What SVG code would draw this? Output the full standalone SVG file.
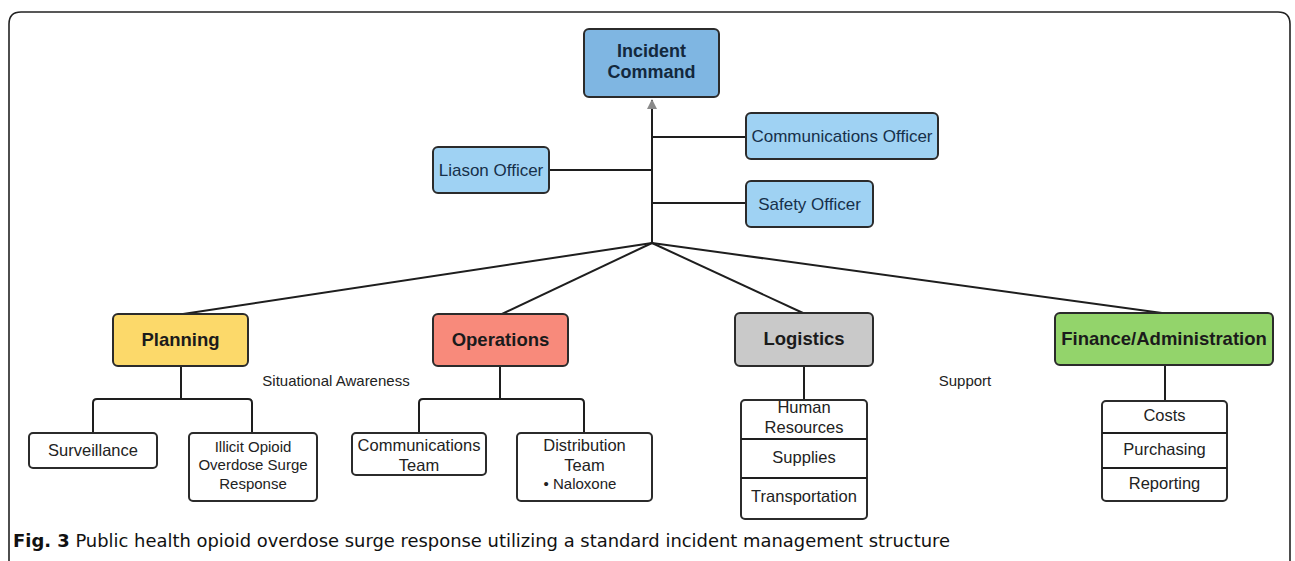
<svg xmlns="http://www.w3.org/2000/svg" width="1295" height="561" viewBox="0 0 1295 561">
<defs>
<style>
.frame{fill:none;stroke:#222;stroke-width:1.6}
.box{stroke:#2b2b2b;stroke-width:2}
.ic{fill:#7fb6e2}
.off{fill:#9fd2f3}
.plan{fill:#fcd96a}
.ops{fill:#f88a7b}
.log{fill:#c9c9c9}
.fin{fill:#93d46b}
.wb{fill:#fff}
.conn{fill:none;stroke:#1e1e1e;stroke-width:2}
.t{font-family:"Liberation Sans",Arial,sans-serif;text-anchor:middle;fill:#222}
.hb{font-size:18.5px;font-weight:bold;fill:#1b1b1b}
.hib{font-size:18px;font-weight:bold;fill:#13283d}
.ot{font-size:17px;fill:#16304a}
.ct{font-size:16.5px}
.cs{font-size:15px}
.lt{font-size:15px}
.cap{font-family:"Liberation Sans Narrow","DejaVu Sans Condensed","Liberation Sans",sans-serif;font-size:17px;fill:#111}
</style>
<marker id="arr" viewBox="0 0 10 10" refX="9" refY="5" markerWidth="5" markerHeight="5" orient="auto">
<path d="M0,0 L10,5 L0,10 z" fill="#8a8a8a"/>
</marker>
</defs>
<rect width="1295" height="561" fill="#fff"/>
<path class="frame" d="M9,575 L9,24 Q9,12 21,12 L1278,12 Q1290,12 1290,24 L1290,575"/>

<g id="connectors">
<path class="conn" d="M652,243 L652,100" marker-end="url(#arr)"/>
<path class="conn" d="M652,137 L746,137"/>
<path class="conn" d="M652,203 L746,203"/>
<path class="conn" d="M549,170 L652,170"/>
<path class="conn" d="M652,243 L183,314"/>
<path class="conn" d="M652,243 L502,314"/>
<path class="conn" d="M652,243 L803,313"/>
<path class="conn" d="M652,243 L1162,313"/>
<path class="conn" d="M181,366 L181,399 M93,433 L93,403 Q93,399 97,399 L248,399 Q252,399 252,403 L252,433"/>
<path class="conn" d="M500,366 L500,399 M419,433 L419,403 Q419,399 423,399 L580,399 Q584,399 584,403 L584,433"/>
<path class="conn" d="M804,366 L804,400"/>
<path class="conn" d="M1165,365 L1165,401"/>
</g>

<g id="incident-command">
<rect class="box ic" x="584" y="29" width="135" height="68" rx="5"/>
<text class="t hib" x="651.5" y="57">Incident</text>
<text class="t hib" x="651.5" y="78">Command</text>
</g>
<g id="communications-officer">
<rect class="box off" x="746" y="113" width="192" height="46" rx="5"/>
<text class="t ot" x="842" y="142">Communications Officer</text>
</g>
<g id="safety-officer">
<rect class="box off" x="746" y="181" width="127" height="46" rx="5"/>
<text class="t ot" x="809.5" y="210">Safety Officer</text>
</g>
<g id="liason-officer">
<rect class="box off" x="433" y="147" width="116" height="46" rx="5"/>
<text class="t ot" x="491" y="176">Liason Officer</text>
</g>

<g id="planning">
<rect class="box plan" x="113" y="314" width="135" height="52" rx="5"/>
<text class="t hb" x="180.5" y="346">Planning</text>
</g>
<g id="operations">
<rect class="box ops" x="433" y="314" width="135" height="52" rx="5"/>
<text class="t hb" x="500.5" y="346">Operations</text>
</g>
<g id="logistics">
<rect class="box log" x="735" y="313" width="138" height="53" rx="5"/>
<text class="t hb" x="804" y="345">Logistics</text>
</g>
<g id="finance-administration">
<rect class="box fin" x="1055" y="313" width="218" height="52" rx="5"/>
<text class="t hb" x="1164" y="345">Finance/Administration</text>
</g>

<g id="situational-awareness">
<text class="t lt" x="336" y="386">Situational Awareness</text>
</g>
<g id="support">
<text class="t lt" x="965" y="386">Support</text>
</g>

<g id="surveillance">
<rect class="box wb" x="29" y="433" width="128" height="35" rx="4"/>
<text class="t ct" x="93" y="456">Surveillance</text>
</g>
<g id="illicit-opioid">
<rect class="box wb" x="189" y="433" width="128" height="68" rx="4"/>
<text class="t cs" x="253" y="452">Illicit Opioid</text>
<text class="t cs" x="253" y="470">Overdose Surge</text>
<text class="t cs" x="253" y="489">Response</text>
</g>
<g id="communications-team">
<rect class="box wb" x="352" y="433" width="134" height="42" rx="4"/>
<text class="t ct" x="419" y="451">Communications</text>
<text class="t ct" x="419" y="471">Team</text>
</g>
<g id="distribution-team">
<rect class="box wb" x="517" y="433" width="135" height="68" rx="4"/>
<text class="t ct" x="584.5" y="451">Distribution</text>
<text class="t ct" x="584.5" y="471">Team</text>
<text class="t cs" x="580" y="489">•   Naloxone</text>
</g>
<g id="logistics-list">
<rect class="box wb" x="741" y="400" width="126" height="119" rx="4"/>
<path class="conn" d="M741,439 L867,439 M741,478 L867,478"/>
<text class="t ct" x="804" y="413">Human</text>
<text class="t ct" x="804" y="433">Resources</text>
<text class="t ct" x="804" y="463">Supplies</text>
<text class="t ct" x="804" y="502">Transportation</text>
</g>
<g id="finance-list">
<rect class="box wb" x="1102" y="401" width="125" height="100" rx="4"/>
<path class="conn" d="M1102,433 L1227,433 M1102,468 L1227,468"/>
<text class="t ct" x="1164.5" y="421">Costs</text>
<text class="t ct" x="1164.5" y="455">Purchasing</text>
<text class="t ct" x="1164.5" y="489">Reporting</text>
</g>

<text class="cap" x="13" y="547" textLength="937" lengthAdjust="spacingAndGlyphs"><tspan font-weight="bold">Fig. 3</tspan> Public health opioid overdose surge response utilizing a standard incident management structure</text>
</svg>
